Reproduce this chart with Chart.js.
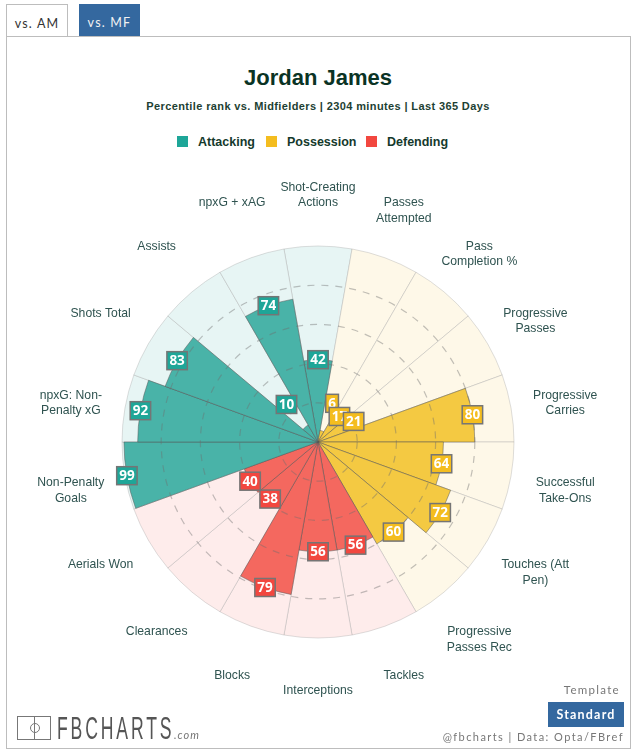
<!DOCTYPE html>
<html lang="en">
<head>
  <meta charset="UTF-8">
  <title>Jordan James - Percentile Pizza</title>
  <script src="https://cdn.jsdelivr.net/npm/chart.js"></script>
  <style>
    body {
      margin: 0;
      background: #fff;
      font-family: 'Liberation Sans', Arial, sans-serif;
      overflow: hidden;
    }
    #page { position: relative; width: 631px; height: 750px; overflow: hidden; }
    #page > * { position: absolute; }
    #frame { left: 6px; top: 36px; width: 623px; height: 711px; border: 1px solid #bdbdbd; }
    .tab {
      top: 4px; height: 32px; text-align: center; box-sizing: border-box;
      font: 12.5px/37px Lato, sans-serif; letter-spacing: 1.2px;
    }
    #tabAm { left: 6px; width: 62px; background: #fff; color: #333; border: 1px solid #bdbdbd; border-bottom: none; }
    #tabMf { left: 79px; width: 61px; background: #34689f; color: #f2f2f2; }
    #title { left: 6px; width: 624px; top: 64px; text-align: center; font-size: 22px; line-height: 27px; font-weight: bold; color: #0a3324; }
    #subtitle { left: 6px; width: 624px; top: 99px; text-align: center; font-size: 11px; line-height: 14px; font-weight: bold; letter-spacing: 0.38px; color: #1d3f33; }
    .key { top: 136px; width: 11px; height: 11px; }
    .keyText { top: 134px; font-size: 12.5px; line-height: 16px; font-weight: bold; color: #14392c; }
    canvas { left: 0; top: 0; }
    #logoBox { left: 17px; top: 716px; width: 32px; height: 22px; border: 1px solid #777; }
    #logoBox i { position: absolute; left: 16px; top: 0; width: 1px; height: 22px; background: #777; }
    #logoBox b { position: absolute; left: 12px; top: 6px; width: 8px; height: 8px; border: 1px solid #777; border-radius: 50%; }
    #logoText { left: 57px; top: 711px; font-size: 32px; line-height: 34px; color: #555; letter-spacing: 5.2px; transform: scaleX(0.55); transform-origin: 0 0; white-space: nowrap; }
    #logoCom { left: 174px; top: 728px; font: italic 11px/14px Lato, sans-serif; color: #777; letter-spacing: 1px; }
    #template { right: 11px; top: 683px; font: 11.5px/14px Lato, sans-serif; letter-spacing: 1.3px; color: #777; }
    #standard { left: 548px; top: 702px; width: 76px; height: 25px; background: #34689f; color: #fff; text-align: center; font: bold 12.5px/25px Lato, sans-serif; letter-spacing: 1.2px; }
    #credit { right: 7px; top: 730px; font: 11px/14px Lato, sans-serif; letter-spacing: 1.42px; color: #777; white-space: nowrap; }
  </style>
</head>
<body>
  <div id="page">
    <div id="frame"></div>
    <div class="tab" id="tabAm">vs. AM</div>
    <div class="tab" id="tabMf">vs. MF</div>
    <div id="title">Jordan James</div>
    <div id="subtitle">Percentile rank vs. Midfielders | 2304 minutes | Last 365 Days</div>
    <div class="key" style="left:177px;background:#1ea698"></div>
    <div class="keyText" style="left:198px">Attacking</div>
    <div class="key" style="left:266px;background:#f4bd1f"></div>
    <div class="keyText" style="left:287px">Possession</div>
    <div class="key" style="left:366px;background:#f2473f"></div>
    <div class="keyText" style="left:387px">Defending</div>
    <canvas id="pizza" width="631" height="750"></canvas>
    <div id="logoBox"><i></i><b></b></div>
    <div id="logoText">FBCHARTS</div>
    <div id="logoCom">.com</div>
    <div id="template">Template</div>
    <div id="standard">Standard</div>
    <div id="credit">@fbcharts | Data: Opta/FBref</div>
  </div>

  <script>
    // metrics clockwise from the top slice
    const metrics = [
      ['Shot-Creating', 'Actions'], ['Passes', 'Attempted'], ['Pass', 'Completion %'],
      ['Progressive', 'Passes'], ['Progressive', 'Carries'], ['Successful', 'Take-Ons'],
      ['Touches (Att', 'Pen)'], ['Progressive', 'Passes Rec'], ['Tackles'], ['Interceptions'],
      ['Blocks'], ['Clearances'], ['Aerials Won'], ['Non-Penalty', 'Goals'],
      ['npxG: Non-', 'Penalty xG'], ['Shots Total'], ['Assists'], ['npxG + xAG']
    ];
    const percentiles = [42, 6, 17, 21, 80, 64, 72, 60, 56, 56, 79, 38, 40, 99, 92, 83, 10, 74];
    const groups = ['A', 'P', 'P', 'P', 'P', 'P', 'P', 'P', 'D', 'D', 'D', 'D', 'D', 'A', 'A', 'A', 'A', 'A'];
    const fullScale = metrics.map(() => 100);

    const barColors = { A: '#49b3a8', P: '#f4c942', D: '#f4685f' };
    const backColors = { A: '#e7f5f4', P: '#fef8e8', D: '#feeceb' };
    const badgeColors = { A: '#1ea698', P: '#f4bd1f', D: '#f2473f' };

    // small slices: the badge would cover the centre, so it sits further out
    const badgeSeat = { 1: 21, 16: 25 };

    const sliceLabels = {
      id: 'sliceLabels',
      afterDraw(chart) {
        const ctx = chart.ctx;
        const r = chart.scales.r;
        const arcs = chart.getDatasetMeta(0).data;

        ctx.save();
        ctx.textAlign = 'center';
        ctx.textBaseline = 'middle';

        // metric names around the outside
        ctx.font = '12.2px "Liberation Sans", Arial, sans-serif';
        ctx.fillStyle = '#2f5350';
        metrics.forEach((lines, i) => {
          const mid = (arcs[i].startAngle + arcs[i].endAngle) / 2;
          const x = r.xCenter + 251 * Math.cos(mid);
          const y = r.yCenter - 3 + 251.5 * Math.sin(mid);
          lines.forEach((line, n) => ctx.fillText(line, x, y + n * 15.5));
        });

        // value badges at the slice end
        ctx.font = 'bold 13.5px "Open Sans", sans-serif';
        percentiles.forEach((v, i) => {
          const mid = (arcs[i].startAngle + arcs[i].endAngle) / 2;
          const dist = r.getDistanceFromCenterForValue(badgeSeat[i] || v);
          const x = r.xCenter + dist * Math.cos(mid);
          const y = r.yCenter + dist * Math.sin(mid);
          const w = ctx.measureText(v).width + 5;
          ctx.fillStyle = badgeColors[groups[i]];
          ctx.strokeStyle = '#757575';
          ctx.lineWidth = 1.5;
          ctx.fillRect(x - w / 2, y - 9, w, 18);
          ctx.strokeRect(x - w / 2, y - 9, w, 18);
          ctx.fillStyle = '#fff';
          ctx.fillText(v, x, y + 0.5);
        });
        ctx.restore();
      }
    };

    new Chart(document.getElementById('pizza').getContext('2d'), {
      type: 'polarArea',
      data: {
        labels: metrics.map(m => m.join(' ')),
        datasets: [
          {
            data: percentiles,
            backgroundColor: groups.map(g => barColors[g]),
            borderColor: 'rgba(85, 85, 85, 0.5)',
            borderWidth: 1
          },
          {
            data: fullScale,
            backgroundColor: groups.map(g => backColors[g]),
            borderColor: 'rgba(160, 160, 160, 0.35)',
            borderWidth: 1
          }
        ]
      },
      options: {
        responsive: false,
        animation: false,
        layout: { padding: { left: 122, right: 117, top: 246, bottom: 112 } },
        plugins: { legend: { display: false }, title: { display: false }, tooltip: { enabled: false } },
        scales: {
          r: {
            min: 0,
            max: 100,
            startAngle: -10,
            ticks: { display: false, stepSize: 20 },
            pointLabels: { display: false },
            angleLines: { display: false },
            border: { dash: [7, 7] },
            grid: {
              z: 1,
              circular: true,
              lineWidth: 1.2,
              color: ctx => ctx.tick.value === 100 ? 'transparent' : 'rgba(110, 110, 110, 0.42)'
            }
          }
        }
      },
      plugins: [sliceLabels]
    });
  </script>
</body>
</html>
